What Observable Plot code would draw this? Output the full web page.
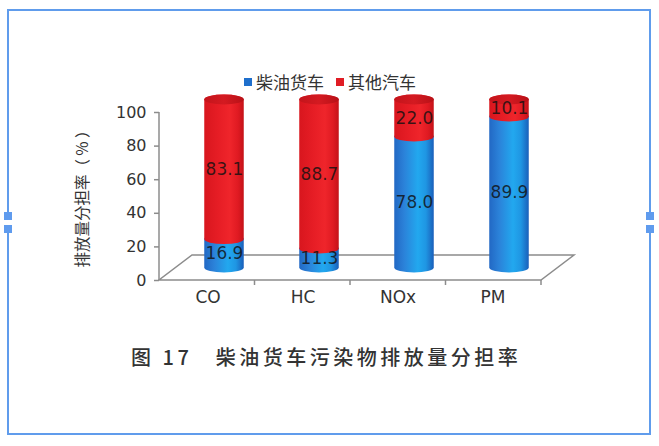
<!DOCTYPE html>
<html>
<head>
<meta charset="utf-8">
<script src="https://cdn.jsdelivr.net/npm/d3@7"></script>
<script src="https://cdn.jsdelivr.net/npm/@observablehq/plot@0.6"></script>
<style>
  body { margin: 0; background: #fff; }
  #wrap { position: relative; width: 659px; height: 446px; overflow: hidden; font-family: "Noto Sans CJK SC", "Noto Sans", sans-serif; }
  #chart { position: absolute; left: 0; top: 0; }
  .frame { position: absolute; left: 7px; top: 9px; width: 644px; height: 426px; box-sizing: border-box; border: 2px solid #609cec; }
  .handle { position: absolute; width: 8px; height: 8px; background: #5f9bee; }
  .gap { position: absolute; width: 6px; height: 5px; background: #fff; }
  #legend { position: absolute; left: 244px; top: 69px; display: flex; align-items: center; font-size: 17px; color: #333; white-space: nowrap; }
  #legend .sw { display: inline-block; width: 8px; height: 8px; margin-right: 4px; }
  #legend .item { display: flex; align-items: center; margin-right: 12px; }
  #ytitle { position: absolute; left: 81px; top: 195px; transform: translate(-50%, -50%) rotate(-90deg); font-size: 15.5px; color: #333; white-space: nowrap; }
  #title { position: absolute; left: 131px; top: 342px; font-size: 20px; letter-spacing: 3.5px; font-weight: 500; color: #333; white-space: nowrap; }
</style>
</head>
<body>
<div id="wrap">
  <div id="chart"></div>
  <div class="frame"></div>
  <div class="gap" style="left:6px;top:220px"></div>
  <div class="gap" style="left:647px;top:220px"></div>
  <div class="handle" style="left:4px;top:212px"></div>
  <div class="handle" style="left:4px;top:225px"></div>
  <div class="handle" style="left:646px;top:212px"></div>
  <div class="handle" style="left:646px;top:225px"></div>
  <div id="legend"></div>
  <div id="ytitle"></div>
  <div id="title"></div>
</div>
<script>
// ---- data ----
const categories = ["CO", "HC", "NOx", "PM"];
const dieselTrucks = [16.9, 11.3, 78.0, 89.9];
const otherVehicles = [83.1, 88.7, 22.0, 10.1];
const seriesNames = ["柴油货车", "其他汽车"];
const seriesColors = ["#1f6fcc", "#e01c24"];
const yTicks = [0, 20, 40, 60, 80, 100];
const yTitle = "排放量分担率（ % ）";
const titleText = "图 17　柴油货车污染物排放量分担率";

const rows = categories.map((c, i) => ({
  cat: c,
  diesel: dieselTrucks[i],
  other: otherVehicles[i],
  total: dieselTrucks[i] + otherVehicles[i]
}));

// ---- style constants ----
const W = 659, H = 446;
const mL = 159, mR = 118, mT = 112, mB = 166;
const DEPTH_X = 33, DEPTH_Y = -25;
const DX = DEPTH_X / 2, DY = DEPTH_Y / 2;
const bandW = (W - mL - mR) / categories.length;
const CYL_W = 40;
const INSET = (bandW - CYL_W) / 2;
const RY = 5;

function floor(index, scales, values, dims) {
  const x0 = dims.marginLeft, x1 = dims.width - dims.marginRight;
  const y0 = dims.height - dims.marginBottom, yTop = dims.marginTop;
  const g = d3.create("svg:g").attr("fill", "none").attr("stroke", "#8c8c8c").attr("stroke-width", 1.5);
  g.append("path").attr("d", `M${x0},${y0}L${x1},${y0}L${x1 + DEPTH_X},${y0 + DEPTH_Y}L${x0 + DEPTH_X},${y0 + DEPTH_Y}Z`);
  g.append("path").attr("d", `M${x0},${yTop}L${x0},${y0}`);
  const step = (x1 - x0) / categories.length;
  for (let i = 1; i <= categories.length; i++) {
    g.append("path").attr("d", `M${x0 + i * step},${y0}v5`);
  }
  return g.node();
}

const cyl = { x: "cat", insetLeft: INSET, insetRight: INSET, insetTop: -RY, insetBottom: -RY, rx: CYL_W / 2, ry: RY, dx: DX, dy: DY };

const svg = Plot.plot({
  width: W,
  height: H,
  marginLeft: mL,
  marginRight: mR,
  marginTop: mT,
  marginBottom: mB,
  style: { fontFamily: "DejaVu Sans, sans-serif", fontSize: "16px", color: "#333", background: "transparent", overflow: "visible" },
  x: { domain: categories, padding: 0, label: null },
  y: { domain: [0, 100], label: null },
  marks: [
    floor,
    Plot.axisY({ ticks: yTicks, tickSize: 5, tickPadding: 8, fontSize: 16, stroke: "#8c8c8c", strokeWidth: 1.5, fill: "#333", label: null }),
    Plot.axisX({ tickSize: 0, tickPadding: 10, fontSize: 17, fill: "#333", label: null }),
    Plot.barY(rows, { ...cyl, y1: 0, y2: "diesel", fill: "url(#gBlue)" }),
    Plot.barY(rows, { ...cyl, y1: "diesel", y2: "total", fill: "url(#gRed)" }),
    Plot.barY(rows, { ...cyl, y1: "total", y2: "total", fill: "url(#gCap)" }),
    Plot.text(rows, { x: "cat", y: d => d.diesel / 2, text: d => d.diesel.toFixed(1), dx: DX, dy: DY, fontSize: 17, fill: "#111", fillOpacity: 0.82 }),
    Plot.text(rows, { x: "cat", y: d => d.diesel + d.other / 2, text: d => d.other.toFixed(1), dx: DX, dy: DY, fontSize: 17, fill: "#111", fillOpacity: 0.82 })
  ]
});

const defs = d3.select(svg).insert("defs", ":first-child");
function grad(id, stops) {
  const lg = defs.append("linearGradient").attr("id", id).attr("x1", 0).attr("x2", 1).attr("y1", 0).attr("y2", 0);
  stops.forEach(([o, c]) => lg.append("stop").attr("offset", o).attr("stop-color", c));
}
grad("gBlue", [[0, "#2268c4"], [0.25, "#2b82d9"], [0.6, "#22a8ef"], [0.8, "#1f96e3"], [1, "#1a5fba"]]);
grad("gRed", [[0, "#d8161e"], [0.35, "#e61d25"], [0.65, "#ef252b"], [0.85, "#e01a22"], [1, "#c41218"]]);
grad("gCap", [[0, "#c4141b"], [0.5, "#d41a21"], [1, "#b81117"]]);

document.getElementById("chart").appendChild(svg);

// legend
const legend = d3.select("#legend");
seriesNames.forEach((n, i) => {
  const it = legend.append("div").attr("class", "item");
  it.append("span").attr("class", "sw").style("background", seriesColors[i]);
  it.append("span").text(n);
});
document.getElementById("ytitle").textContent = yTitle;
document.getElementById("title").textContent = titleText;
</script>
</body>
</html>
